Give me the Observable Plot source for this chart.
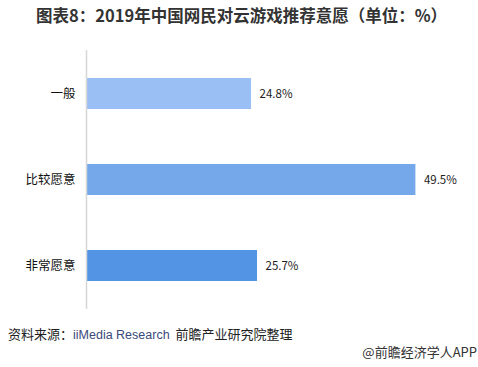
<!DOCTYPE html>
<html>
<head>
<meta charset="utf-8">
<script src="https://cdn.jsdelivr.net/npm/d3@7"></script>
<script src="https://cdn.jsdelivr.net/npm/@observablehq/plot@0.6"></script>
<style>
  html, body { margin: 0; padding: 0; background: #fff; }
  body { width: 478px; height: 367px; position: relative; overflow: hidden; font-family: "Noto Sans CJK SC", "Noto Sans", sans-serif; }
  #title { position: absolute; left: 36px; top: 4px; font-size: 16.5px; font-weight: bold; color: #333; white-space: nowrap; line-height: 22px; }
  #chart { position: absolute; left: 0; top: 40px; }
  #source { position: absolute; left: 8px; top: 325px; font-size: 13px; color: #222; white-space: nowrap; line-height: 18px; }
  #source .en { color: #3a4a7a; font-family: "Liberation Sans", Arial, sans-serif; font-size: 12.5px; }
  #credit { position: absolute; right: 1px; top: 343px; font-size: 13px; color: #333; white-space: nowrap; line-height: 18px; }
</style>
</head>
<body>
<div id="title">图表8：2019年中国网民对云游戏推荐意愿（单位：%）</div>
<div id="chart"></div>
<div id="source">资料来源：<span class="en">iiMedia Research</span>&nbsp;&nbsp;前瞻产业研究院整理</div>
<div id="credit">@前瞻经济学人APP</div>
<script>
const categories = ["一般", "比较愿意", "非常愿意"];
const values = [24.8, 49.5, 25.7];
const colors = ["#9abff5", "#74a8eb", "#5494e4"];

const data = categories.map((c, i) => ({category: c, value: values[i], color: colors[i]}));

const chart = Plot.plot({
  width: 478,
  height: 280,
  marginTop: 10,
  marginBottom: 11,
  marginLeft: 86,
  marginRight: 26,
  style: {fontFamily: '"Noto Sans CJK SC", sans-serif', background: "transparent"},
  x: {domain: [0, 55], axis: null},
  y: {domain: categories, paddingInner: 0.64, paddingOuter: 0.32, label: null},
  marks: [
    Plot.barX(data, {x: "value", y: "category", fill: d => d.color}),
    Plot.ruleX([0], {stroke: "#d6d6d6", strokeWidth: 1.5}),
    Plot.text(data, {x: "value", y: "category", text: d => d.value.toFixed(1) + "%", textAnchor: "start", dx: 8, fontSize: 11.5, fill: "#222"}),
    Plot.axisY({tickSize: 0, tickPadding: 11, fontSize: 12.5, color: "#111", label: null})
  ]
});
document.getElementById("chart").appendChild(chart);
</script>
</body>
</html>
